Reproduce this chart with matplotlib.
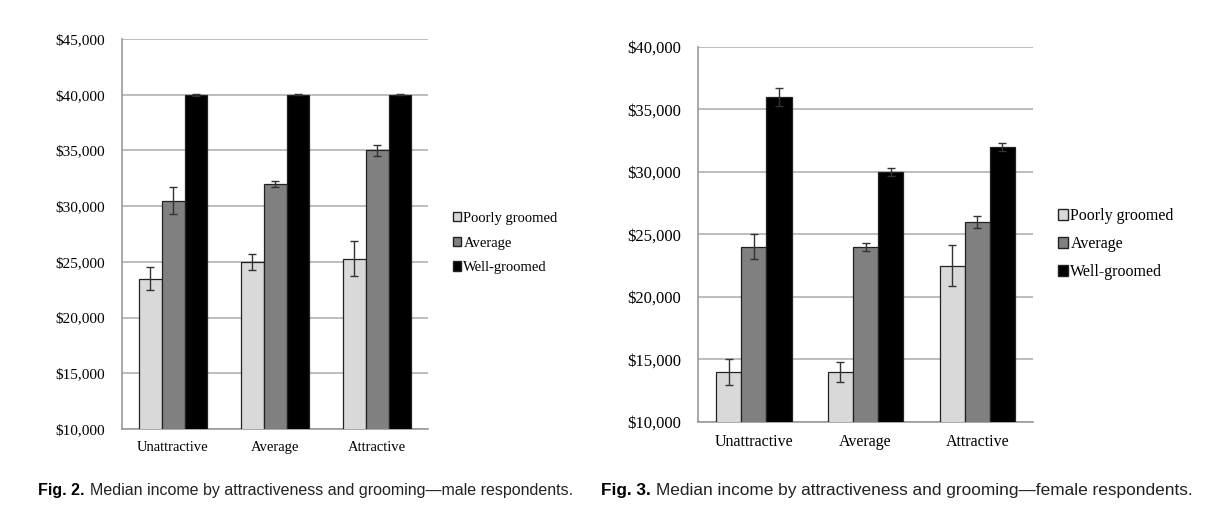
import numpy as np
import matplotlib.pyplot as plt
from matplotlib.patches import Patch
from matplotlib.ticker import FuncFormatter

# data
categories = ['Unattractive', 'Average', 'Attractive']
groups = ['Poorly groomed', 'Average', 'Well-groomed']

male_poor = [23500, 25000, 25300]
male_avg = [30500, 32000, 35000]
male_well = [40000, 40000, 40000]
male_poor_err = [1050, 700, 1600]
male_avg_err = [1200, 300, 500]
male_well_err = [100, 30, 30]

female_poor = [14000, 14000, 22500]
female_avg = [24000, 24000, 26000]
female_well = [36000, 30000, 32000]
female_poor_err = [1050, 800, 1650]
female_avg_err = [1000, 300, 500]
female_well_err = [700, 300, 350]

captions = [('Fig. 2.', 'Median income by attractiveness and grooming\u2014male respondents.'),
            ('Fig. 3.', 'Median income by attractiveness and grooming\u2014female respondents.')]

colors = ['#d9d9d9', '#808080', '#000000']
serif = ['Liberation Serif', 'DejaVu Serif']
sans = ['Liberation Sans', 'DejaVu Sans']


def money(v, pos):
    return '${:,.0f}'.format(v)


def draw_chart(ax, vals, errs, ylim, fs):
    x = np.arange(len(categories))
    w = 0.225
    for i, (v, e) in enumerate(zip(vals, errs)):
        ax.bar(x + (i - 1) * w, v, w, bottom=0, color=colors[i],
               edgecolor='#222222', linewidth=0.9, zorder=3)
        ax.errorbar(x + (i - 1) * w, v, yerr=e, fmt='none', ecolor='#333333',
                    elinewidth=1.0, capsize=3, capthick=1.0, zorder=4)
    ax.set_ylim(*ylim)
    ax.set_xlim(-0.5, 2.5)
    ax.set_yticks(np.arange(ylim[0], ylim[1] + 1, 5000))
    ax.yaxis.set_major_formatter(FuncFormatter(money))
    ax.set_xticks(x)
    ax.set_xticklabels(categories)
    ax.grid(axis='y', color='#b8b8b8', linewidth=1.3, zorder=0)
    ax.set_axisbelow(True)
    for s in ['top', 'right']:
        ax.spines[s].set_visible(False)
    for s in ['left', 'bottom']:
        ax.spines[s].set_color('#999999')
        ax.spines[s].set_linewidth(1.2)
    ax.tick_params(axis='y', length=0, pad=12)
    ax.tick_params(axis='x', length=0, pad=9)
    for lab in ax.get_yticklabels():
        lab.set_family(serif)
        lab.set_fontsize(fs + 0.5)
    for lab in ax.get_xticklabels():
        lab.set_family(serif)
        lab.set_fontsize(fs)


def draw_legend(fig, anchor, fs, sp):
    handles = [Patch(facecolor=c, edgecolor='#222222', linewidth=1.0) for c in colors]
    fig.legend(handles, groups, loc='center left', bbox_to_anchor=anchor,
               frameon=False, handlelength=0.6, handleheight=0.6,
               handletextpad=0.15, labelspacing=sp,
               prop={'family': serif, 'size': fs})


def draw_caption(fig, ax, x, parts, fs):
    t = fig.text(x, 0.066, parts[0], family=sans, weight='bold', fontsize=fs, va='center')
    ax.annotate(parts[1], xy=(1, 0.5), xycoords=t, xytext=(4, 0), textcoords='offset points',
                va='center', family=sans, fontsize=fs, annotation_clip=False, color='#222222')


fig = plt.figure(figsize=(12.24, 5.25), dpi=100)

ax1 = fig.add_axes([0.0997, 0.1829, 0.2500, 0.7428])
draw_chart(ax1, [male_poor, male_avg, male_well],
           [male_poor_err, male_avg_err, male_well_err], (10000, 45000), 10.5)
draw_legend(fig, (0.359, 0.537), 10.5, 0.8)

ax2 = fig.add_axes([0.5703, 0.1962, 0.2737, 0.7143])
draw_chart(ax2, [female_poor, female_avg, female_well],
           [female_poor_err, female_avg_err, female_well_err], (10000, 40000), 11.5)
draw_legend(fig, (0.853, 0.535), 11.5, 0.75)

draw_caption(fig, ax1, 0.031, captions[0], 11.5)
draw_caption(fig, ax2, 0.491, captions[1], 12.4)

fig.savefig('out.png', dpi=100)
